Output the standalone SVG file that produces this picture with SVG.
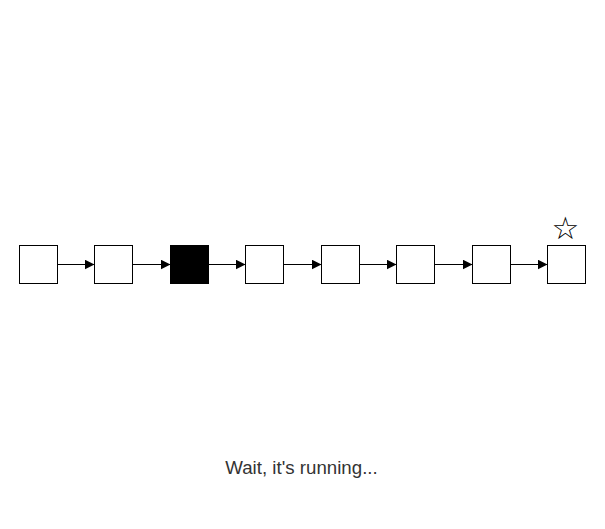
<svg xmlns="http://www.w3.org/2000/svg" width="605" height="529" viewBox="0 0 605 529">
  <style>
    .box { fill: #fff; stroke: #000; stroke-width: 1; }
    .box.active { fill: #000; }
    .link { stroke: #000; stroke-width: 1; fill: none; marker-end: url(#arrow); }
    .status { font-family: "Liberation Sans", Arial, sans-serif; font-size: 18.7px; fill: #333; text-anchor: middle; }
    .mark { font-family: "DejaVu Sans", sans-serif; font-size: 31px; fill: #000; text-anchor: middle; }
  </style>
  <defs>
    <marker id="arrow" viewBox="0 0 10 10" refX="10" refY="5" markerWidth="10" markerHeight="10" markerUnits="userSpaceOnUse" orient="auto">
      <path d="M0,0 L10,5 L0,10 Z" fill="#000"/>
    </marker>
  </defs>
  <rect width="605" height="529" fill="#fff"/>

  <g id="connectors">
    <line class="link" x1="57.5" y1="264.5" x2="94.5" y2="264.5"/>
    <line class="link" x1="132.5" y1="264.5" x2="170.5" y2="264.5"/>
    <line class="link" x1="208.5" y1="264.5" x2="245.5" y2="264.5"/>
    <line class="link" x1="283.5" y1="264.5" x2="321.5" y2="264.5"/>
    <line class="link" x1="359.5" y1="264.5" x2="396.5" y2="264.5"/>
    <line class="link" x1="434.5" y1="264.5" x2="472.5" y2="264.5"/>
    <line class="link" x1="510.5" y1="264.5" x2="547.5" y2="264.5"/>
  </g>

  <g id="node0"><rect class="box" x="19.5" y="245.5" width="38" height="38"/></g>
  <g id="node1"><rect class="box" x="94.5" y="245.5" width="38" height="38"/></g>
  <g id="node2"><rect class="box active" x="170.5" y="245.5" width="38" height="38"/></g>
  <g id="node3"><rect class="box" x="245.5" y="245.5" width="38" height="38"/></g>
  <g id="node4"><rect class="box" x="321.5" y="245.5" width="38" height="38"/></g>
  <g id="node5"><rect class="box" x="396.5" y="245.5" width="38" height="38"/></g>
  <g id="node6"><rect class="box" x="472.5" y="245.5" width="38" height="38"/></g>
  <g id="node7">
    <rect class="box" x="547.5" y="245.5" width="38" height="38"/>
    <text class="mark" x="565.5" y="239">☆</text>
  </g>

  <text class="status" x="301.5" y="474">Wait, it's running...</text>
</svg>
